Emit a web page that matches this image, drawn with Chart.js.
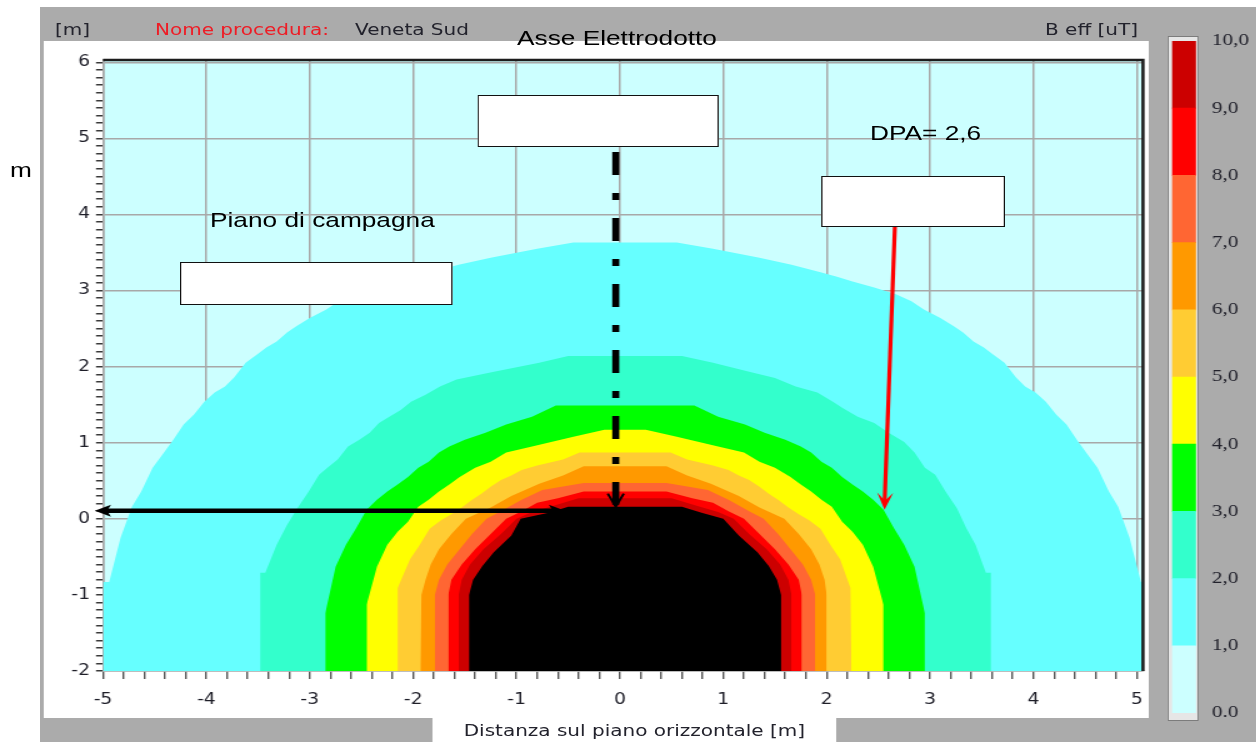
<!DOCTYPE html>
<html lang="it">
<head>
<meta charset="utf-8">
<title>B eff - Veneta Sud</title>
<script src="https://cdn.jsdelivr.net/npm/chart.js@4.4.1/dist/chart.umd.min.js"></script>
<style>
  html, body { margin: 0; padding: 0; background: #fff; overflow: hidden; }
  /* the reference screenshot is stretched 1.25x horizontally */
  #stage { position: relative; width: 1005px; height: 742px; transform: scaleX(1.25); transform-origin: 0 0; font-family: "DejaVu Sans", sans-serif; }
  #stage > * { position: absolute; }
  #grayPanel { left: 32px; top: 7px; width: 973px; height: 735px; background: #ababab; }
  #whitePanel { left: 35px; top: 41px; width: 884px; height: 677px; background: #fff; }
  #titleBox { left: 346px; top: 718px; width: 323px; height: 24px; background: #fff; }
  #barFrame { left: 933.6px; top: 36px; width: 23.6px; height: 683px; background: #e6e6e6; border: 1px solid #7c7c7c; }
  .hdr { top: 21px; font-size: 16px; line-height: 18px; color: #22222c; white-space: nowrap; }
  .doc { font-family: "Liberation Sans", Arial, sans-serif; font-size: 21px; line-height: 22px; color: #000; white-space: nowrap; }
  .box { background: #fff; border: 1.5px solid #111; box-sizing: border-box; }
</style>
</head>
<body>
<div id="stage">
  <div id="grayPanel"></div>
  <div id="whitePanel"></div>
  <div id="titleBox"></div>
  <div id="barFrame"></div>
  <canvas id="field" width="1005" height="742" style="left:0;top:0"></canvas>
  <canvas id="scaleBar" width="85" height="712" style="left:920px;top:30px"></canvas>

  <div class="hdr" style="left:44px">[m]</div>
  <div class="hdr" style="left:124px;color:#ee1c25">Nome procedura:</div>
  <div class="hdr" style="left:284px">Veneta Sud</div>
  <div class="hdr" style="left:836px">B eff [uT]</div>
  <div class="hdr" style="left:346px;width:323px;top:722px;text-align:center">Distanza sul piano orizzontale [m]</div>

  <div class="doc" style="left:393.6px;width:200px;top:27px;text-align:center">Asse Elettrodotto</div>
  <div class="doc" style="left:8px;top:159px">m</div>
  <div class="doc" style="left:168px;top:209px">Piano di campagna</div>
  <div class="doc" style="left:696px;top:122px">DPA= 2,6</div>

  <div class="box" style="left:382.4px;top:95px;width:192.8px;height:52px"></div>
  <div class="box" style="left:656.8px;top:176px;width:147.2px;height:51px"></div>
  <div class="box" style="left:144px;top:262px;width:218.4px;height:43px"></div>
</div>

<script>
// axis ticks
const xTicks = [-5, -4, -3, -2, -1, 0, 1, 2, 3, 4, 5];
const yTicks = [-2, -1, 0, 1, 2, 3, 4, 5, 6];

// colour scale (uT)
const scaleValues = [0, 1, 2, 3, 4, 5, 6, 7, 8, 9, 10];
const scaleLabels = ['0.0', '1,0', '2,0', '3,0', '4,0', '5,0', '6,0', '7,0', '8,0', '9,0', '10,0'];
const scaleColors = ['#CCFFFF', '#66FFFF', '#33FFCC', '#00FF00', '#FFFF00', '#FFCC33', '#FF9900', '#FF6633', '#FF0000', '#CC0000'];

// upper edge of each region B >= level, as [x, y] in metres
const iso1 = [[-5,-0.83],[-4.94,-0.83],[-4.83,-0.25],[-4.72,0.16],[-4.63,0.36],[-4.52,0.67],[-4.41,0.87],[-4.32,1.04],[-4.22,1.24],[-4.12,1.37],[-4.02,1.54],[-3.92,1.66],[-3.82,1.74],[-3.73,1.86],[-3.62,2.05],[-3.51,2.16],[-3.42,2.25],[-3.32,2.33],[-3.22,2.45],[-3.13,2.53],[-3.0,2.64],[-2.84,2.75],[-2.72,2.86],[-2.57,2.95],[-2.36,3.04],[-2.15,3.12],[-2.0,3.18],[-1.84,3.24],[-1.56,3.34],[-1.25,3.43],[-0.8,3.55],[-0.45,3.63],[0.55,3.63],[0.9,3.55],[1.35,3.43],[1.66,3.34],[1.94,3.24],[2.1,3.18],[2.25,3.12],[2.46,3.04],[2.67,2.95],[2.82,2.86],[2.94,2.75],[3.1,2.64],[3.23,2.53],[3.32,2.45],[3.42,2.33],[3.52,2.25],[3.61,2.16],[3.72,2.05],[3.83,1.86],[3.92,1.74],[4.02,1.66],[4.12,1.54],[4.22,1.37],[4.32,1.24],[4.42,1.04],[4.51,0.87],[4.62,0.67],[4.73,0.36],[4.82,0.16],[4.93,-0.25],[5.04,-0.83],[5.1,-0.83]];
const iso2 = [[-3.48,-2],[-3.48,-0.71],[-3.43,-0.71],[-3.32,-0.34],[-3.22,-0.08],[-3.12,0.14],[-3.01,0.36],[-2.91,0.58],[-2.82,0.68],[-2.73,0.78],[-2.63,0.95],[-2.52,1.04],[-2.42,1.13],[-2.33,1.26],[-2.23,1.34],[-2.12,1.43],[-2.02,1.54],[-1.88,1.63],[-1.74,1.74],[-1.58,1.83],[-1.23,1.93],[-0.78,2.05],[-0.5,2.14],[0.6,2.14],[0.9,2.05],[1.26,1.93],[1.5,1.85],[1.7,1.74],[1.91,1.66],[2.06,1.54],[2.15,1.46],[2.3,1.34],[2.46,1.26],[2.6,1.13],[2.75,1.01],[2.85,0.87],[2.95,0.67],[3.05,0.58],[3.15,0.36],[3.26,0.14],[3.35,-0.12],[3.44,-0.34],[3.54,-0.71],[3.59,-0.71],[3.59,-2]];
const iso3 = [[-2.85,-2],[-2.85,-1.24],[-2.75,-0.63],[-2.65,-0.34],[-2.55,-0.12],[-2.45,0.12],[-2.35,0.25],[-2.25,0.36],[-2.15,0.45],[-2.05,0.55],[-1.95,0.67],[-1.85,0.75],[-1.75,0.87],[-1.65,0.95],[-1.5,1.04],[-1.3,1.13],[-1.1,1.24],[-0.85,1.34],[-0.62,1.49],[0.72,1.49],[0.95,1.34],[1.21,1.24],[1.4,1.13],[1.6,1.04],[1.75,0.95],[1.85,0.87],[1.95,0.75],[2.05,0.67],[2.15,0.55],[2.25,0.45],[2.35,0.36],[2.45,0.25],[2.55,0.12],[2.65,-0.12],[2.75,-0.34],[2.85,-0.63],[2.95,-1.24],[2.95,-2]];
const iso4 = [[-2.45,-2],[-2.45,-1.13],[-2.35,-0.63],[-2.25,-0.34],[-2.15,-0.17],[-2.05,-0.04],[-1.95,0.16],[-1.85,0.25],[-1.75,0.36],[-1.65,0.45],[-1.55,0.55],[-1.4,0.67],[-1.25,0.75],[-1.1,0.87],[-0.85,0.95],[-0.45,1.08],[-0.15,1.17],[0.25,1.17],[0.55,1.08],[0.95,0.95],[1.2,0.87],[1.35,0.75],[1.5,0.67],[1.65,0.55],[1.75,0.45],[1.85,0.36],[1.95,0.25],[2.05,0.16],[2.15,-0.04],[2.25,-0.17],[2.35,-0.34],[2.45,-0.63],[2.55,-1.13],[2.55,-2]];
const iso5 = [[-2.15,-2],[-2.15,-0.91],[-2.03,-0.53],[-1.94,-0.35],[-1.84,-0.13],[-1.73,-0.02],[-1.63,0.06],[-1.53,0.15],[-1.44,0.24],[-1.34,0.33],[-1.25,0.42],[-1.15,0.51],[-1.05,0.57],[-0.95,0.64],[-0.8,0.7],[-0.55,0.78],[-0.39,0.87],[0.49,0.87],[0.65,0.78],[0.9,0.7],[1.05,0.64],[1.15,0.57],[1.25,0.51],[1.35,0.42],[1.44,0.33],[1.54,0.24],[1.63,0.15],[1.73,0.06],[1.83,-0.02],[1.94,-0.13],[2.04,-0.35],[2.13,-0.53],[2.23,-0.91],[2.24,-2]];
const iso6 = [[-1.93,-2],[-1.92,-1.0],[-1.88,-0.8],[-1.83,-0.6],[-1.75,-0.4],[-1.63,-0.2],[-1.49,0],[-1.25,0.15],[-1.05,0.3],[-0.78,0.46],[-0.55,0.57],[-0.35,0.69],[0.45,0.69],[0.65,0.57],[0.88,0.46],[1.15,0.3],[1.35,0.15],[1.59,0],[1.73,-0.2],[1.85,-0.4],[1.93,-0.6],[1.98,-0.8],[2.0,-1.0],[2.0,-2]];
const iso7 = [[-1.79,-2],[-1.79,-1],[-1.75,-0.8],[-1.67,-0.6],[-1.55,-0.4],[-1.43,-0.2],[-1.29,0],[-1.15,0.1],[-0.95,0.25],[-0.75,0.38],[-0.35,0.47],[0.45,0.47],[0.85,0.38],[1.05,0.25],[1.25,0.1],[1.39,0],[1.53,-0.2],[1.65,-0.4],[1.77,-0.6],[1.85,-0.8],[1.89,-1],[1.89,-2]];
const iso8 = [[-1.66,-2],[-1.66,-1],[-1.63,-0.8],[-1.53,-0.6],[-1.4,-0.4],[-1.25,-0.2],[-1.1,0],[-0.95,0.1],[-0.8,0.21],[-0.6,0.27],[-0.35,0.36],[0.45,0.36],[0.7,0.27],[0.9,0.21],[1.05,0.1],[1.2,0],[1.35,-0.2],[1.5,-0.4],[1.63,-0.6],[1.73,-0.8],[1.76,-1],[1.76,-2]];
const iso9 = [[-1.56,-2],[-1.56,-1],[-1.53,-0.8],[-1.45,-0.6],[-1.32,-0.4],[-1.15,-0.2],[-1.0,0],[-0.85,0.09],[-0.65,0.17],[-0.4,0.27],[0.5,0.27],[0.75,0.17],[0.95,0.09],[1.1,0],[1.25,-0.2],[1.42,-0.4],[1.55,-0.6],[1.63,-0.8],[1.66,-1],[1.66,-2]];
const iso10 = [[-1.46,-2],[-1.46,-1.0],[-1.42,-0.8],[-1.33,-0.62],[-1.22,-0.44],[-1.05,-0.22],[-0.96,0],[-0.69,0.08],[-0.5,0.16],[0.6,0.16],[0.79,0.08],[1.0,0],[1.15,-0.22],[1.33,-0.44],[1.44,-0.62],[1.52,-0.8],[1.56,-1.0],[1.56,-2]];

const isoLines = [iso1, iso2, iso3, iso4, iso5, iso6, iso7, iso8, iso9, iso10];
const isoColors = ['#66FFFF', '#33FFCC', '#00FF00', '#FFFF00', '#FFCC33', '#FF9900', '#FF6633', '#FF0000', '#CC0000', '#000000'];

// drawn marks of the document (data coordinates)
const groundArrow = { from: [-0.53, 0.105], to: [-5.08, 0.105] };
const axisLine = { x: -0.04, top: 4.82, tip: 0.16 };
const dpaArrow = { from: [2.66, 3.84], to: [2.56, 0.12] };

Chart.defaults.font.family = '"DejaVu Sans", sans-serif';
Chart.defaults.color = '#1e1e28';

const gridGray = '#a8a8a8';
const xMarks = [], yMarks = [];
for (let v = xTicks[0] * 10; v <= xTicks[xTicks.length - 1] * 10; v += 2) xMarks.push(v / 10);
for (let v = yTicks[0] * 10; v <= yTicks[yTicks.length - 1] * 10; v += 1) yMarks.push(v / 10);

function head(ctx, fx, fy, tx, ty, len, half, notch) {
  const a = Math.atan2(ty - fy, tx - fx), c = Math.cos(a), s = Math.sin(a);
  ctx.beginPath();
  ctx.moveTo(tx, ty);
  ctx.lineTo(tx - len * c + half * s, ty - len * s - half * c);
  ctx.lineTo(tx - (len - notch) * c, ty - (len - notch) * s);
  ctx.lineTo(tx - len * c - half * s, ty - len * s + half * c);
  ctx.closePath();
  ctx.fill();
}

const plotDecor = {
  id: 'plotDecor',
  beforeDraw(chart) {
    const { ctx, chartArea: a } = chart;
    ctx.save();
    ctx.fillStyle = scaleColors[0];
    ctx.fillRect(a.left, a.top, a.right - a.left, a.bottom - a.top);
    ctx.restore();
  },
  afterDraw(chart) {
    const { ctx, chartArea: a, scales: { x, y } } = chart;
    ctx.save();
    // top and right frame
    ctx.strokeStyle = '#1c1c1c';
    ctx.lineWidth = 2.5;
    ctx.beginPath();
    ctx.moveTo(a.left, a.top);
    ctx.lineTo(a.right, a.top);
    ctx.lineTo(a.right, a.bottom);
    ctx.stroke();

    // ground level double arrow
    const gx1 = x.getPixelForValue(groundArrow.from[0]), gy1 = y.getPixelForValue(groundArrow.from[1]);
    const gx2 = x.getPixelForValue(groundArrow.to[0]), gy2 = y.getPixelForValue(groundArrow.to[1]);
    ctx.strokeStyle = '#000'; ctx.fillStyle = '#000';
    ctx.lineWidth = 4.5;
    ctx.beginPath(); ctx.moveTo(gx1 - 8, gy1); ctx.lineTo(gx2 + 8, gy2); ctx.stroke();
    head(ctx, gx2, gy2, gx1, gy1, 13, 6, 3);
    head(ctx, gx1, gy1, gx2, gy2, 13, 6, 3);

    // line axis: dash-dot with open head
    const ax = x.getPixelForValue(axisLine.x);
    const at = y.getPixelForValue(axisLine.top), ab = y.getPixelForValue(axisLine.tip);
    ctx.lineWidth = 5.6;
    ctx.setLineDash([23, 18, 7, 18]);
    ctx.beginPath(); ctx.moveTo(ax, at); ctx.lineTo(ax, ab - 2); ctx.stroke();
    ctx.setLineDash([]);
    ctx.lineWidth = 2;
    ctx.beginPath(); ctx.moveTo(ax - 6.4, ab - 13); ctx.lineTo(ax, ab); ctx.lineTo(ax + 6.4, ab - 13); ctx.stroke();
    ctx.lineWidth = 3;
    ctx.beginPath(); ctx.moveTo(ax, ab - 14); ctx.lineTo(ax, ab - 2); ctx.stroke();

    // DPA arrow
    const rx1 = x.getPixelForValue(dpaArrow.from[0]), ry1 = y.getPixelForValue(dpaArrow.from[1]);
    const rx2 = x.getPixelForValue(dpaArrow.to[0]), ry2 = y.getPixelForValue(dpaArrow.to[1]);
    ctx.strokeStyle = '#ff0000'; ctx.fillStyle = '#ff0000';
    ctx.lineWidth = 3.2;
    ctx.beginPath(); ctx.moveTo(rx1, ry1); ctx.lineTo(rx2, ry2 - 6); ctx.stroke();
    head(ctx, rx1, ry1, rx2, ry2, 17, 6.4, 8);
    ctx.restore();
  }
};

// dataset 0 is painted last, so the strongest field goes first
const datasets = [];
for (let i = isoLines.length - 1; i >= 0; i--) {
  datasets.push({
    label: 'B >= ' + (i + 1),
    data: isoLines[i].map(p => ({ x: p[0], y: p[1] })),
    showLine: true,
    fill: 'start',
    backgroundColor: isoColors[i],
    borderColor: 'rgba(0,0,0,0)',
    borderWidth: 0,
    pointRadius: 0,
    tension: 0
  });
}

new Chart(document.getElementById('field'), {
  type: 'scatter',
  data: { datasets: datasets },
  options: {
    responsive: false,
    animation: false,
    events: [],
    layout: { padding: { left: 32, top: 60, right: 90.6, bottom: 30 } },
    plugins: { legend: { display: false }, tooltip: { enabled: false } },
    scales: {
      x: {
        type: 'linear', min: -5, max: 5.06, z: 1,
        afterBuildTicks: s => { s.ticks = xMarks.map(v => ({ value: v })); },
        afterFit: s => { s.height = 41; },
        ticks: { autoSkip: false, maxRotation: 0, minRotation: 0, padding: 12, font: { size: 15 },
                 callback: v => Number.isInteger(v) ? String(v) : '' },
        grid: { color: c => Number.isInteger(c.tick && c.tick.value) ? gridGray : 'rgba(0,0,0,0)',
                lineWidth: 1.5, tickLength: 8, tickColor: '#3a3a3a', tickWidth: 1.2 },
        border: { color: gridGray, width: 1.5 }
      },
      y: {
        type: 'linear', min: -2, max: 6.03, z: 1,
        afterBuildTicks: s => { s.ticks = yMarks.map(v => ({ value: v })); },
        afterFit: s => { s.width = 50.4; },
        ticks: { autoSkip: false, padding: 4.8, font: { size: 15 },
                 callback: v => Number.isInteger(v) ? String(v) : '' },
        grid: { color: c => Number.isInteger(c.tick && c.tick.value) ? gridGray : 'rgba(0,0,0,0)',
                lineWidth: 1.5, tickLength: 5.6, tickColor: '#3a3a3a', tickWidth: 1.5 },
        border: { color: gridGray, width: 1.5 }
      }
    }
  },
  plugins: [plotDecor]
});

// colour scale bar
new Chart(document.getElementById('scaleBar'), {
  type: 'bar',
  data: {
    labels: ['B eff'],
    datasets: scaleColors.map((c, i) => ({
      data: [[scaleValues[i], scaleValues[i + 1]]],
      backgroundColor: c,
      borderWidth: 0,
      grouped: false,
      barPercentage: 1,
      categoryPercentage: 1
    }))
  },
  options: {
    responsive: false,
    animation: false,
    events: [],
    layout: { padding: { left: 17.6, top: 11, right: 0, bottom: 29 } },
    plugins: { legend: { display: false }, tooltip: { enabled: false } },
    scales: {
      x: { display: false },
      y: {
        position: 'right', min: 0, max: 10,
        afterBuildTicks: s => { s.ticks = scaleValues.map(v => ({ value: v })); },
        afterFit: s => { s.width = 48.2; },
        ticks: { padding: 0, color: '#22222c', font: { family: '"Liberation Serif", serif', size: 17 },
                 callback: v => scaleLabels[Math.round(v)] },
        grid: { display: false, drawTicks: true, tickLength: 12.8 },
        border: { display: false }
      }
    }
  }
});
</script>
</body>
</html>
